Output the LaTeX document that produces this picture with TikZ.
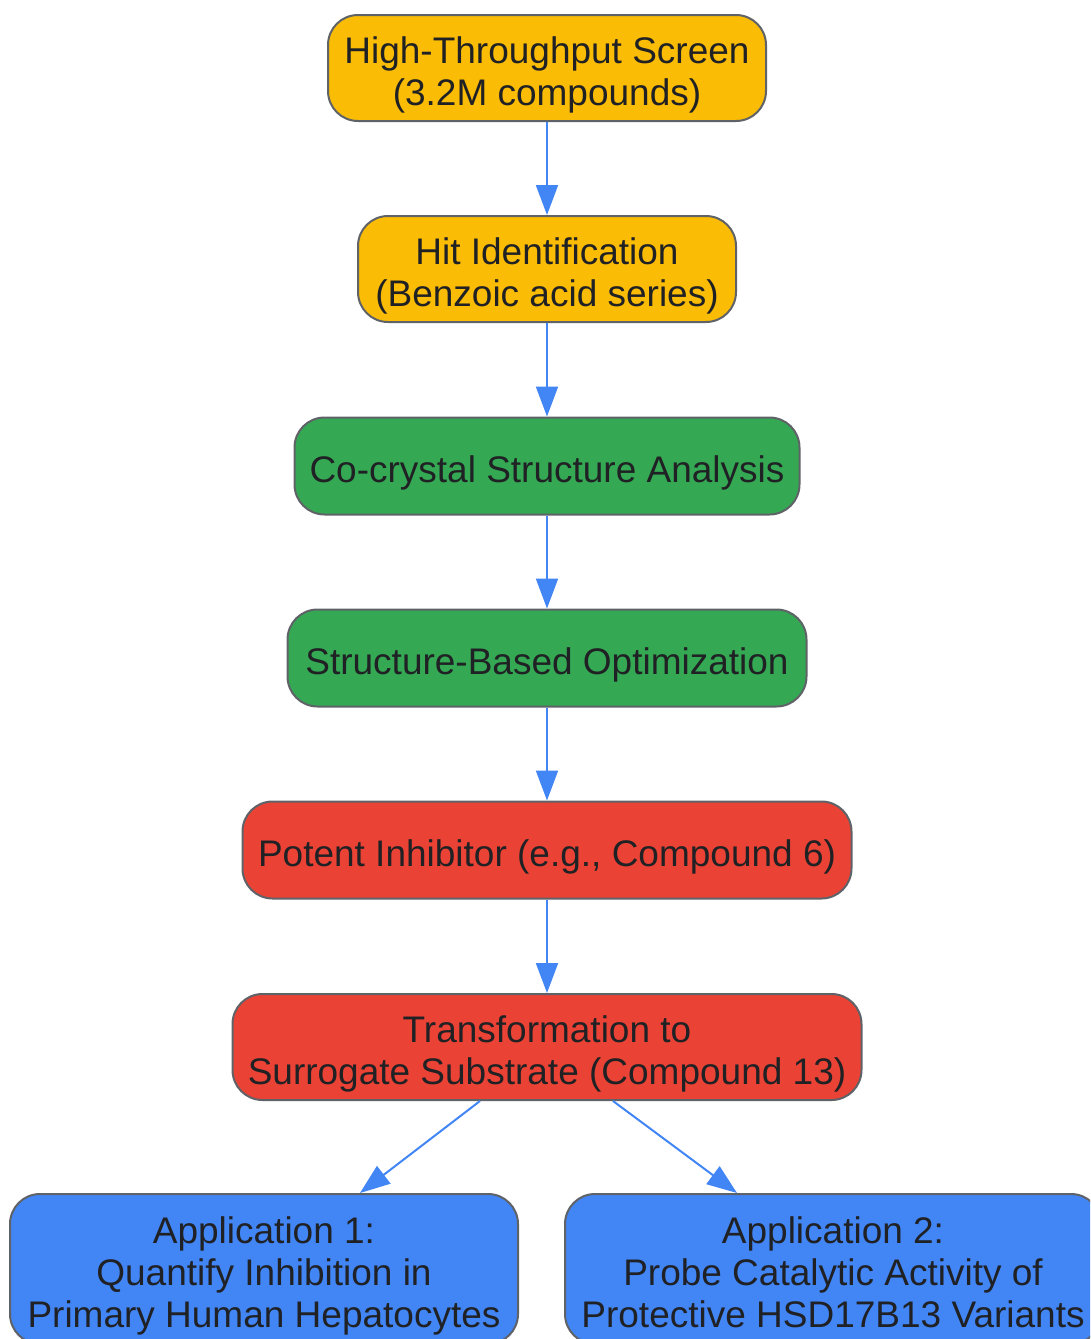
\documentclass[tikz,border=0pt]{standalone}
\usepackage{fontspec}
\setmainfont{Liberation Sans}
\usetikzlibrary{arrows.meta,calc}
\definecolor{gyellow}{HTML}{FBBC05}
\definecolor{ggreen}{HTML}{34A853}
\definecolor{gred}{HTML}{EA4335}
\definecolor{gblue}{HTML}{4285F4}
\definecolor{gborder}{HTML}{5F6368}
\definecolor{gtext}{HTML}{202124}
\newcommand{\myline}[1]{\strut #1}
\tikzset{
  box/.style={draw=gborder, line width=2pt, rounded corners=30pt, inner sep=0pt},
  txt/.style={align=center, inner sep=0pt, text=gtext, font=\fontsize{37}{42}\selectfont},
  conn/.style={draw=gblue, line width=2pt, -{Triangle[length=30pt,width=22pt]}},
}
\begin{document}
\begin{tikzpicture}[x=1pt,y=-1pt]
\useasboundingbox (0,0) rectangle (1090,1339);
\clip (0,0) rectangle (1090,1339);
\node[box, fill=gyellow, minimum width=438pt, minimum height=106pt] (hts) at (547,68) {};
\node[box, fill=gyellow, minimum width=378pt, minimum height=106pt] (hit) at (547,269) {};
\node[box, fill=ggreen, minimum width=505pt, minimum height=97pt] (cc) at (547,466) {};
\node[box, fill=ggreen, minimum width=519pt, minimum height=97pt] (sbo) at (547,658) {};
\node[box, fill=gred, minimum width=609pt, minimum height=97pt] (pot) at (547,850) {};
\node[box, fill=gred, minimum width=629pt, minimum height=106pt] (tr) at (547,1047) {};
\node[box, fill=gblue, minimum width=508pt, minimum height=150pt] (a1) at (264,1269) {};
\node[box, fill=gblue, minimum width=536pt, minimum height=150pt] (a2) at (833,1269) {};
\node[txt] (hts-t) at ($(hts)+(0,7.6)$) {\myline{High-Throughput Screen}\\\myline{(3.2M compounds)}};
\node[txt] (hit-t) at ($(hit)+(0,7.6)$) {\myline{Hit Identification}\\\myline{(Benzoic acid series)}};
\node[txt] (cc-t) at ($(cc)+(0,7.6)$) {\myline{Co-crystal Structure Analysis}};
\node[txt] (sbo-t) at ($(sbo)+(0,7.6)$) {\myline{Structure-Based Optimization}};
\node[txt] (pot-t) at ($(pot)+(0,7.6)$) {\myline{Potent Inhibitor (e.g., Compound 6)}};
\node[txt] (tr-t) at ($(tr)+(0,7.6)$) {\myline{Transformation to}\\\myline{Surrogate Substrate (Compound 13)}};
\node[txt] (a1-t) at ($(a1)+(0,7.6)$) {\myline{Application 1:}\\\myline{Quantify Inhibition in}\\\myline{Primary Human Hepatocytes}};
\node[txt] (a2-t) at ($(a2)+(0,7.6)$) {\myline{Application 2:}\\\myline{Probe Catalytic Activity of}\\\myline{Protective HSD17B13 Variants}};
\draw[conn] (hts.south) -- (hit.north);
\draw[conn] (hit.south) -- (cc.north);
\draw[conn] (cc.south) -- (sbo.north);
\draw[conn] (sbo.south) -- (pot.north);
\draw[conn] (pot.south) -- (tr.north);
\draw[conn] ($(tr.south)+(-67,0)$) -- ($(a1.north)+(96,0)$);
\draw[conn] ($(tr.south)+(66,0)$) -- ($(a2.north)+(-96,0)$);
\end{tikzpicture}
\end{document}
